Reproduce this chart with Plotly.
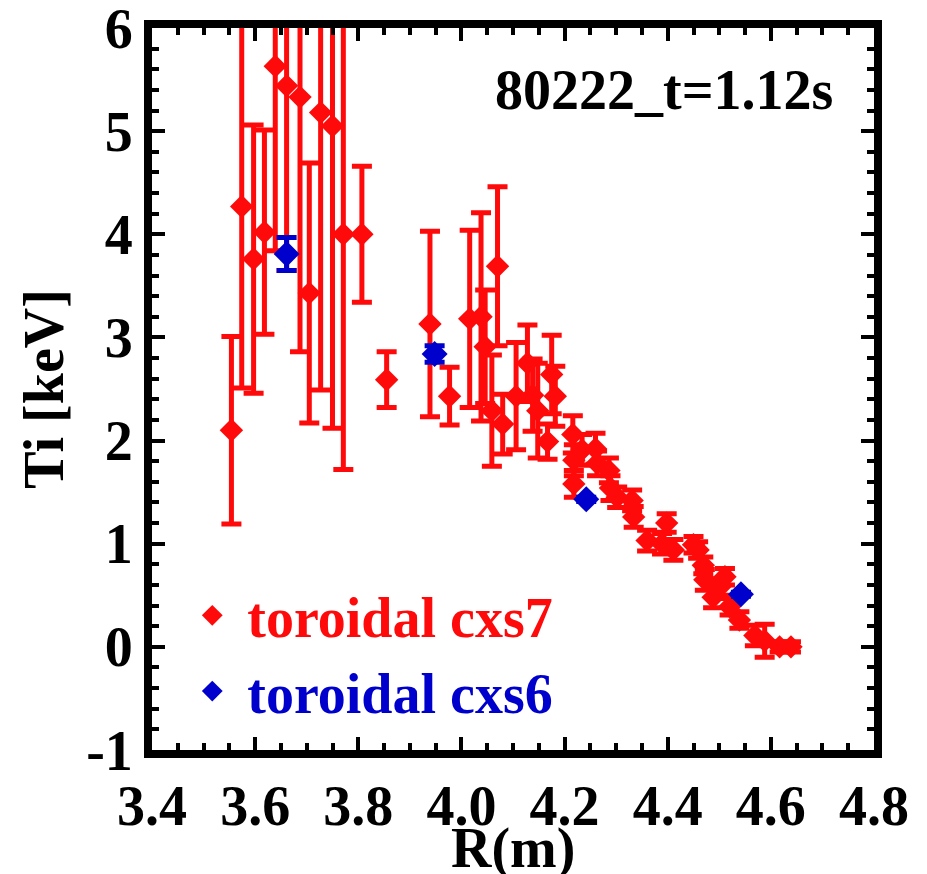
import plotly.graph_objects as go

# toroidal cxs7 (red)
r_cxs7 = [3.554, 3.574, 3.597, 3.618, 3.639, 3.661, 3.687, 3.705, 3.727, 3.750,
          3.771, 3.807, 3.855, 3.939, 3.977, 4.016, 4.038, 4.046, 4.059, 4.070,
          4.080, 4.106, 4.128, 4.138, 4.148, 4.167, 4.175, 4.182, 4.216, 4.218,
          4.218, 4.234, 4.260, 4.263, 4.286, 4.289, 4.302, 4.331, 4.334, 4.360,
          4.389, 4.398, 4.411, 4.450, 4.459, 4.469, 4.472, 4.488, 4.501, 4.511,
          4.520, 4.539, 4.569, 4.588, 4.617, 4.639]
ti_cxs7 = [2.10, 4.27, 3.76, 4.02, 5.63, 5.44, 5.33, 3.43, 5.18, 5.05,
           4.00, 4.00, 2.59, 3.13, 2.43, 3.18, 3.20, 2.91, 2.29, 3.69,
           2.16, 2.43, 2.75, 2.44, 2.29, 1.99, 2.64, 2.43, 2.06, 1.81,
           1.58, 1.91, 1.92, 1.78, 1.71, 1.54, 1.45, 1.42, 1.26, 1.03,
           1.00, 1.20, 0.94, 0.99, 0.94, 0.79, 0.65, 0.48, 0.58, 0.68,
           0.39, 0.26, 0.11, 0.06, 0.00, 0.00]
err_cxs7 = [0.91, 1.76, 1.30, 0.99, 1.79, 1.79, 2.47, 1.26, 2.69, 2.93,
            2.28, 0.66, 0.27, 0.90, 0.28, 0.86, 1.01, 0.55, 0.54, 0.77,
            0.29, 0.52, 0.37, 0.35, 0.46, 0.17, 0.38, 0.29, 0.18, 0.15,
            0.13, 0.15, 0.15, 0.12, 0.12, 0.12, 0.10, 0.10, 0.10, 0.10,
            0.10, 0.09, 0.10, 0.08, 0.08, 0.08, 0.10, 0.10, 0.08, 0.08,
            0.08, 0.08, 0.10, 0.16, 0.05, 0.05]

# toroidal cxs6 (blue)
r_cxs6 = [3.661, 3.948, 4.242, 4.542]
ti_cxs6 = [3.81, 2.84, 1.43, 0.51]
err_cxs6 = [0.16, 0.08, 0.02, 0.02]

x_tickvals = [3.4, 3.6, 3.8, 4.0, 4.2, 4.4, 4.6, 4.8]
x_ticktext = ["3.4", "3.6", "3.8", "4.0", "4.2", "4.4", "4.6", "4.8"]
y_tickvals = [-1, 0, 1, 2, 3, 4, 5, 6]
y_ticktext = ["-1", "0", "1", "2", "3", "4", "5", "6"]

RED = "#ff0a0a"
BLUE = "#0000cd"
FONT = "Liberation Serif"
FS = 56

fig = go.Figure()
fig.add_trace(go.Scatter(
    x=r_cxs7, y=ti_cxs7, mode="markers",
    name="<span style='color:%s'>toroidal cxs7</span>" % RED,
    marker=dict(symbol="diamond", size=18, color=RED),
    error_y=dict(type="data", array=err_cxs7, visible=True, color=RED,
                 thickness=5, width=10),
))
fig.add_trace(go.Scatter(
    x=r_cxs6, y=ti_cxs6, mode="markers",
    name="<span style='color:%s'>toroidal cxs6</span>" % BLUE,
    marker=dict(symbol="diamond", size=20, color=BLUE),
    error_y=dict(type="data", array=err_cxs6, visible=True, color=BLUE,
                 thickness=5, width=10),
))

axis_common = dict(
    showline=True, linewidth=8, linecolor="black", mirror="allticks",
    ticks="inside", ticklen=13, tickwidth=4, tickcolor="black",
    showgrid=False, zeroline=False, automargin=False,
    ticklabeloverflow="allow",
    tickfont=dict(family=FONT, size=FS, color="black", weight="bold"),
)

fig.update_xaxes(
    range=[3.4, 4.8], tickvals=x_tickvals, ticktext=x_ticktext,
    minor=dict(ticks="inside", ticklen=7, tickwidth=4, dtick=0.05,
               tick0=3.4, tickcolor="black", showgrid=False),
    **axis_common,
)
fig.update_yaxes(
    range=[-1, 6], tickvals=y_tickvals, ticktext=y_ticktext,
    minor=dict(ticks="inside", ticklen=7, tickwidth=4, dtick=0.2,
               tick0=0, tickcolor="black", showgrid=False),
    title=dict(text="Ti [keV]", font=dict(family=FONT, size=FS, color="black", weight="bold"),
               standoff=8),
    **axis_common,
)

# x-axis title placed below the tick labels
fig.add_annotation(
    text="R(m)", xref="paper", yref="paper",
    x=0.5, y=-0.136, xanchor="center", yanchor="middle", showarrow=False,
    font=dict(family=FONT, size=FS, color="black", weight="bold"),
)

fig.add_annotation(
    text="80222_t=1.12s", xref="paper", yref="paper",
    x=0.946, y=0.914, xanchor="right", yanchor="middle", showarrow=False,
    font=dict(family=FONT, size=FS, color="black", weight="bold"),
)

fig.update_layout(
    width=927, height=874,
    margin=dict(l=152, r=53, t=28, b=124),
    plot_bgcolor="white", paper_bgcolor="white",
    showlegend=True,
    legend=dict(
        x=0.035, y=0.246, xanchor="left", yanchor="top",
        bgcolor="rgba(0,0,0,0)", borderwidth=0,
        font=dict(family=FONT, size=FS, weight="bold"),
        itemwidth=60, tracegroupgap=0,
    ),
)

fig.write_html("out.html")
